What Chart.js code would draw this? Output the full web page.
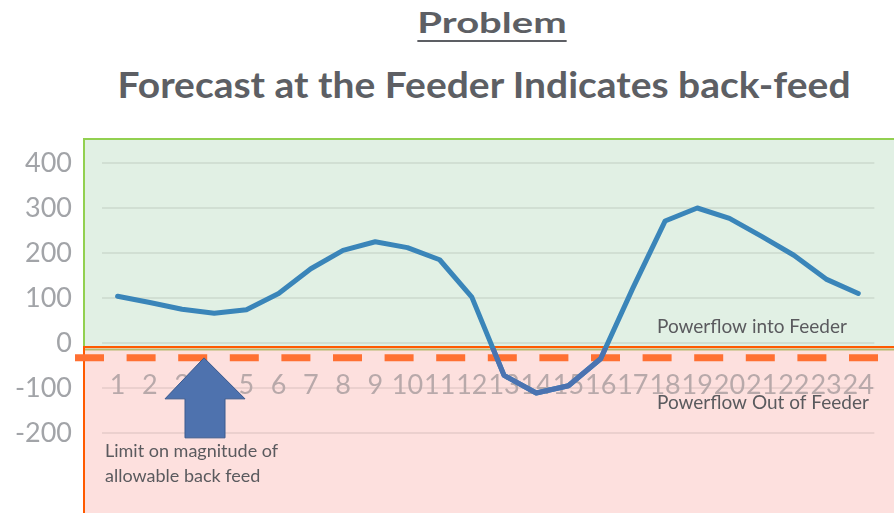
<!DOCTYPE html>
<html>
<head>
<meta charset="utf-8">
<script src="https://cdn.jsdelivr.net/npm/chart.js@4.4.1/dist/chart.umd.min.js"></script>
<style>
  body { margin: 0; width: 894px; height: 513px; overflow: hidden; background: #fff; }
  .title { position: absolute; white-space: nowrap; font-family: 'Lato', sans-serif; font-weight: bold;
           color: #5d5f64; line-height: 1; transform-origin: center; }
  #t1 { font-size: 29px; top: 7px; text-decoration: underline; text-decoration-thickness: 2px; text-underline-offset: 7px; }
  #t2 { font-size: 37px; top: 65px; }
  #wrap { position: absolute; left: 0; top: 0; width: 900px; height: 513px; }
</style>
</head>
<body>
<div id="t1" class="title">Problem</div>
<div id="t2" class="title">Forecast at the Feeder Indicates back-feed</div>
<div id="wrap"><canvas id="feederChart" width="900" height="513"></canvas></div>
<script>
// Forecast data
const hours = ['1','2','3','4','5','6','7','8','9','10','11','12','13','14','15','16','17','18','19','20','21','22','23','24'];
const forecast = [104, 90, 75, 66, 74, 110, 165, 206, 225, 212, 185, 102, -72, -111, -95, -35, 122, 271, 300, 277, 237, 195, 142, 110];
const backFeedLimit = -33;
const yMin = -200;
const yMax = 400;

// fit the titles to the width they have in the slide
function fitTitle(id, centerX, targetWidth) {
    const el = document.getElementById(id);
    const w = el.offsetWidth;
    el.style.left = centerX + 'px';
    el.style.transform = 'translateX(-50%) scaleX(' + (targetWidth / w) + ')';
}
fitTitle('t1', 492, 149);
fitTitle('t2', 484, 733);

function splitY(chart) {
    return chart.scales.y.getPixelForValue(0) + 4;
}

// background zones, limit line, arrow and notes
const zonePlugin = {
    id: 'zones',
    beforeDraw(chart) {
        const ctx = chart.ctx;
        const area = chart.chartArea;
        const left = area.left - 17.5;
        const top = area.top - 24;
        const split = splitY(chart);
        ctx.save();
        // powerflow into feeder
        ctx.fillStyle = '#e1f0e4';
        ctx.fillRect(left, top, chart.width - left, split - top);
        // powerflow out of feeder
        ctx.fillStyle = '#fde0de';
        ctx.fillRect(left, split, chart.width - left, chart.height - split);

        ctx.lineWidth = 2;
        ctx.strokeStyle = '#92d050';
        ctx.beginPath();
        ctx.moveTo(left, split);
        ctx.lineTo(left, top);
        ctx.lineTo(chart.width, top);
        ctx.stroke();

        ctx.strokeStyle = '#b7b86e';
        ctx.beginPath();
        ctx.moveTo(left, split + 2.5);
        ctx.lineTo(chart.width, split + 2.5);
        ctx.stroke();

        ctx.strokeStyle = '#ff5a00';
        ctx.beginPath();
        ctx.moveTo(chart.width, split);
        ctx.lineTo(left, split);
        ctx.lineTo(left, chart.height);
        ctx.stroke();
        ctx.restore();
    },
    beforeDatasetsDraw(chart) {
        const ctx = chart.ctx;
        const ly = chart.scales.y.getPixelForValue(backFeedLimit);
        ctx.save();
        ctx.strokeStyle = '#ff7033';
        ctx.lineWidth = 7;
        ctx.setLineDash([29, 22.6]);
        ctx.beginPath();
        ctx.moveTo(75, ly);
        ctx.lineTo(chart.width, ly);
        ctx.stroke();
        ctx.restore();
    },
    afterDatasetsDraw(chart) {
        // the part of the line inside the back-feed zone looks darker
        const ctx = chart.ctx;
        const split = splitY(chart);
        const pts = chart.getDatasetMeta(0).data;
        ctx.save();
        ctx.beginPath();
        ctx.rect(0, split + 1, chart.width, chart.height - split);
        ctx.clip();
        ctx.strokeStyle = '#4b73b1';
        ctx.lineWidth = 5;
        ctx.lineJoin = 'round';
        ctx.lineCap = 'round';
        ctx.beginPath();
        pts.forEach((p, i) => i ? ctx.lineTo(p.x, p.y) : ctx.moveTo(p.x, p.y));
        ctx.stroke();
        ctx.restore();
    },
    afterDraw(chart) {
        const ctx = chart.ctx;
        const ly = chart.scales.y.getPixelForValue(backFeedLimit);
        ctx.save();
        // arrow pointing at the limit
        const tipX = 204;
        ctx.fillStyle = '#4e72ae';
        ctx.strokeStyle = '#3a5a8e';
        ctx.lineWidth = 1;
        ctx.beginPath();
        ctx.moveTo(tipX, ly);
        ctx.lineTo(tipX + 41, ly + 41);
        ctx.lineTo(tipX + 21, ly + 41);
        ctx.lineTo(tipX + 21, ly + 80);
        ctx.lineTo(tipX - 19, ly + 80);
        ctx.lineTo(tipX - 19, ly + 41);
        ctx.lineTo(tipX - 39, ly + 41);
        ctx.closePath();
        ctx.fill();
        ctx.stroke();

        ctx.fillStyle = '#5a5a5e';
        ctx.font = '19px Lato';
        ctx.textBaseline = 'middle';
        ctx.textAlign = 'left';
        ctx.fillText('Powerflow into Feeder', 657, 327);
        ctx.fillText('Powerflow Out of Feeder', 657, 403);
        ctx.font = '18px Lato';
        ctx.fillText('Limit on magnitude of', 105, 451);
        ctx.fillText('allowable back feed', 105, 476);
        ctx.restore();
    }
};

Chart.defaults.font.family = 'Lato';

const ctx = document.getElementById('feederChart').getContext('2d');
const feederChart = new Chart(ctx, {
    type: 'line',
    data: {
        labels: hours,
        datasets: [{
            label: 'Forecast',
            data: forecast,
            borderColor: '#3a85b9',
            borderWidth: 5,
            borderJoinStyle: 'round',
            borderCapStyle: 'round',
            pointRadius: 0,
            tension: 0,
            fill: false
        }]
    },
    options: {
        responsive: false,
        animation: false,
        layout: {
            padding: { top: 163, bottom: 80, left: 0, right: 3.5 }
        },
        plugins: {
            legend: { display: false },
            tooltip: { enabled: false }
        },
        scales: {
            x: {
                position: { y: 0 },
                offset: true,
                grid: { display: false, drawTicks: false },
                border: { display: false },
                ticks: {
                    autoSkip: false,
                    maxRotation: 0,
                    padding: 26,
                    color: '#b8a9aa',
                    font: { size: 27 }
                }
            },
            y: {
                min: yMin,
                max: yMax,
                afterFit(scale) { scale.width = 101.5; },
                grid: { color: 'rgba(0,0,0,0.07)', lineWidth: 2, drawTicks: false },
                border: { display: false },
                ticks: {
                    stepSize: 100,
                    padding: 29.5,
                    color: '#a2a4a8',
                    font: { size: 27 }
                }
            }
        }
    },
    plugins: [zonePlugin]
});
</script>
</body>
</html>
